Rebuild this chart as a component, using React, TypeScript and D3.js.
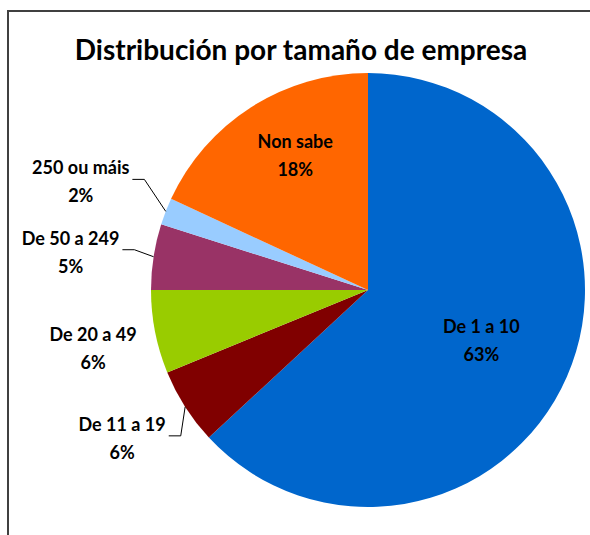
import React, { useRef, useEffect } from "react";
import * as d3 from "d3";

// chart data
const categories = ["De 1 a 10", "De 11 a 19", "De 20 a 49", "De 50 a 249", "250 ou máis", "Non sabe"];
const shares = [63.1, 5.7, 6.2, 4.9, 2.0, 18.1];
const percentLabels = ["63%", "6%", "6%", "5%", "2%", "18%"];
const colors = ["#0066CC", "#800000", "#99CC00", "#993366", "#99CCFF", "#FF6600"];

const App = () => {
  const svgRef = useRef<SVGSVGElement>(null);

  useEffect(() => {
    const width = 590;
    const height = 535;
    const cx = 368;
    const cy = 290;
    const radius = 217;
    const font = "Lato, 'Open Sans', sans-serif";

    const svg = d3.select(svgRef.current).attr("width", width).attr("height", height);
    svg.selectAll("*").remove();

    // frame (only top and left edges visible)
    svg
      .append("path")
      .attr("d", `M8,${height} V11 H${width}`)
      .attr("fill", "none")
      .attr("stroke", "#404040")
      .attr("stroke-width", 2);

    svg
      .append("text")
      .attr("x", 301)
      .attr("y", 60)
      .attr("text-anchor", "middle")
      .attr("font-family", font)
      .attr("font-weight", "bold")
      .attr("font-size", 28)
      .attr("fill", "#000")
      .text("Distribución por tamaño de empresa");

    const data = categories.map((c, i) => ({ name: c, value: shares[i], pct: percentLabels[i], color: colors[i] }));

    const pie = d3
      .pie<any>()
      .sort(null)
      .value((d) => d.value);
    const arcs = pie(data);
    const arc = d3.arc<any>().innerRadius(0).outerRadius(radius);

    const g = svg.append("g").attr("transform", `translate(${cx},${cy})`);

    g.selectAll("path.slice")
      .data(arcs)
      .enter()
      .append("path")
      .attr("class", "slice")
      .attr("d", arc)
      .attr("fill", (d) => d.data.color);

    // label placement: radius factor along mid angle + nudge; outside ones get leaders
    const layout = [
      { r: 0.57, dx: 0, dy: 2, leader: false },
      { r: 1, dx: -63, dy: 32, leader: true },
      { r: 1, dx: -62, dy: 17, leader: false },
      { r: 1, dx: -83, dy: -4, leader: true },
      { r: 1, dx: -85, dy: -29, leader: true },
      { r: 0.7, dx: 9, dy: -6, leader: false },
    ];

    const polar = (a: number, r: number) => [r * Math.sin(a), -r * Math.cos(a)];

    arcs.forEach((d, i) => {
      const mid = (d.startAngle + d.endAngle) / 2;
      const L = layout[i];
      const [ex, ey] = polar(mid, radius * L.r);
      const lx = ex + L.dx;
      const ly = ey + L.dy;

      const t = g
        .append("text")
        .attr("text-anchor", "middle")
        .attr("font-family", font)
        .attr("font-weight", "bold")
        .attr("font-size", 18)
        .attr("fill", "#000");
      const line1 = t.append("tspan").attr("x", lx).attr("y", ly - 8).text(d.data.name);
      t.append("tspan").attr("x", lx).attr("y", ly + 20).text(d.data.pct);

      if (L.leader) {
        const w = (line1.node() as SVGTSpanElement).getComputedTextLength();
        const x0 = lx + w / 2 + 3;
        const yl = ly - 8 + 5;
        const [px, py] = polar(mid, radius);
        g.insert("polyline", "text")
          .attr("points", `${x0},${yl} ${x0 + 12},${yl} ${px},${py}`)
          .attr("fill", "none")
          .attr("stroke", "#000")
          .attr("stroke-width", 1);
      }
    });
  }, []);

  return <svg ref={svgRef} style={{ position: "absolute", left: 0, top: 0, background: "#fff" }}></svg>;
};

export default App;
